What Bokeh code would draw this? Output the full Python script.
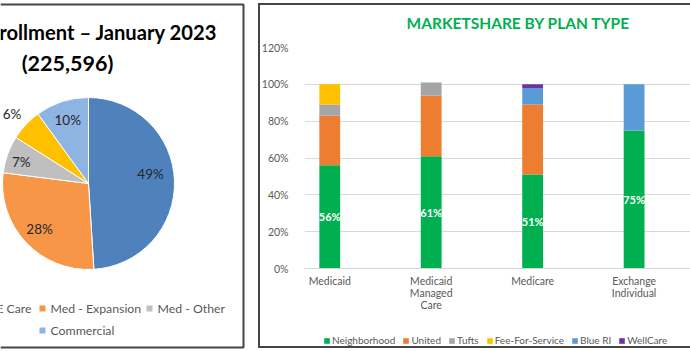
import numpy as np
from bokeh.plotting import figure
from bokeh.layouts import row
from bokeh.models import (Range1d, ColumnDataSource, FixedTicker, PrintfTickFormatter,
                          Legend, LegendItem, Title)
from bokeh.core.properties import value
from bokeh.embed import file_html
from bokeh.resources import INLINE

# ---------------- data: enrollment pie ----------------
pie_title = "Total Enrollment – January 2023"
pie_total = "(225,596)"
pie_categories = ["RItE Care", "Med - Expansion", "Med - Other", "", "Commercial"]  # 4th entry's legend is cropped out of view
pie_shares = [49, 28, 7, 6, 10]

# ---------------- data: market share bars ----------------
bar_title = "MARKETSHARE BY PLAN TYPE"
plan_types = ["Medicaid", "Medicaid\nManaged\nCare", "Medicare", "Exchange\nIndividual"]
carriers = ["Neighborhood", "United", "Tufts", "Fee-For-Service", "Blue RI", "WellCare"]
neighborhood = [56, 61, 51, 75]
united = [27, 33, 38, 0]
tufts = [6, 7, 0, 0]
fee_for_service = [11, 0, 0, 0]
blue_ri = [0, 0, 9, 25]
wellcare = [0, 0, 2, 0]
y_ticks = [0, 20, 40, 60, 80, 100, 120]

# ---------------- styles ----------------
FONT = "Lato"
TXT = "#595959"
BORDER = "#454545"
pie_colors = ["#4F81BD", "#F79646", "#BFBFBF", "#FFC000", "#8EB4E3"]
bar_colors = ["#00B050", "#ED7D31", "#A5A5A5", "#FFC000", "#5B9BD5", "#7030A0"]

H = 351
W1 = 258
W2 = 432

# ================= left panel (pie) =================
left = figure(width=W1, height=H, x_range=Range1d(0, W1), y_range=Range1d(0, H),
              x_axis_type=None, y_axis_type=None, output_backend="svg",
              toolbar_location=None, min_border=0, frame_align=False)
left.grid.visible = False
left.outline_line_color = None


def py(v):
    return H - v


cx, cy, r = 88, py(183), 86
frac = np.array(pie_shares, dtype=float) / sum(pie_shares)
cend = np.cumsum(frac)
cstart = cend - frac
pie_src = ColumnDataSource(dict(start=np.pi / 2 - 2 * np.pi * cend,
                                end=np.pi / 2 - 2 * np.pi * cstart, color=pie_colors))
left.wedge(x=cx, y=cy, radius=r, start_angle="start", end_angle="end", color="color",
           line_color="white", line_width=1, source=pie_src)

label_k = [0.73, 0.78, 0.82, 1.2, 0.78]
label_nudge = np.radians([7, 0, 2, 1, 0])
mid = np.pi / 2 - 2 * np.pi * (cstart + frac / 2) + label_nudge
lab_src = ColumnDataSource(dict(
    x=cx + np.array(label_k) * r * np.cos(mid),
    y=cy + np.array(label_k) * r * np.sin(mid),
    t=[f"{v}%" for v in pie_shares]))
left.text(x="x", y="y", text="t", source=lab_src, text_font=value(FONT),
          text_font_size="13.5px", text_color="#262626", text_align="center",
          text_baseline="middle")

left.text(x=[217], y=[py(31)], text=[pie_title], text_font=value(FONT),
          text_font_size="20.2px", text_font_style="bold", text_color="#000000",
          text_align="right", text_baseline="middle")
left.text(x=[67], y=[py(62)], text=[pie_total], text_font=value(FONT),
          text_font_size="21.5px", text_font_style="bold", text_color="#000000",
          text_align="center", text_baseline="middle")

# pie legend (the panel is cropped, so entries sit where the picture shows them)
leg_pos = {1: (42, 308), 2: (149, 308), 4: (42, 330)}
idx = list(leg_pos.keys())
left.scatter(x=[leg_pos[i][0] for i in idx], y=[py(leg_pos[i][1]) for i in idx],
             marker="square", size=6, line_width=0, color=[pie_colors[i] for i in idx])
left.text(x=[leg_pos[i][0] + 8 for i in idx], y=[py(leg_pos[i][1]) for i in idx],
          text=[pie_categories[i] for i in idx], text_font=value(FONT),
          text_font_size="12.3px", text_color=TXT, text_align="left",
          text_baseline="middle")
left.text(x=[31], y=[py(308)], text=[pie_categories[0]], text_font=value(FONT),
          text_font_size="12.3px", text_color=TXT, text_align="right",
          text_baseline="middle")

left.line(x=[0, 243, 243, 0], y=[py(4), py(4), py(347), py(347)], line_color=BORDER,
          line_width=2)

# ================= right panel (stacked bars) =================
panel_edges = ("linear-gradient(#454545,#454545) 0px 3px / 100% 2px no-repeat, "
               "linear-gradient(#454545,#454545) 0px 346px / 100% 2px no-repeat, "
               "linear-gradient(#454545,#454545) 0px 3px / 2px 345px no-repeat")
# frame runs from the 120% line down to the bottom of the panel; 0% sits 83 px above it
PX_PER_PCT = 221 / 120
right = figure(width=W2, height=H, x_range=Range1d(-0.2488, 3.556),
               y_range=Range1d(-83 / PX_PER_PCT, 120),
               output_backend="svg", toolbar_location=None, frame_align=False,
               min_border_left=42, min_border_right=0, min_border_top=47,
               min_border_bottom=0, styles={"background": panel_edges})
right.outline_line_color = None
right.border_fill_alpha = 0
right.background_fill_alpha = 0

src = ColumnDataSource(dict(x=list(range(len(plan_types))), Neighborhood=neighborhood,
                            United=united, Tufts=tufts, **{"Fee-For-Service": fee_for_service},
                            **{"Blue RI": blue_ri}, WellCare=wellcare))
rends = right.vbar_stack(carriers, x="x", width=0.205, color=bar_colors, line_color=None,
                         source=src)

right.text(x=list(range(len(plan_types))), y=[v / 2 for v in neighborhood],
           text=[f"{v}%" for v in neighborhood], text_font=value(FONT),
           text_font_size="11px", text_font_style="bold", text_color="white",
           text_align="center", text_baseline="middle")

xa = right.xaxis[0]
xa.fixed_location = 0
xa.ticker = FixedTicker(ticks=list(range(len(plan_types))))
xa.major_label_overrides = {i: lbl for i, lbl in enumerate(plan_types)}
xa.axis_line_color = "#D9D9D9"
xa.major_tick_line_color = None
xa.minor_tick_line_color = None
xa.major_label_standoff = 0
xa.major_label_text_font = FONT
xa.major_label_text_font_size = "10.5px"
xa.major_label_text_color = TXT
xa.major_label_text_line_height = 1.0

ya = right.yaxis[0]
ya.ticker = FixedTicker(ticks=y_ticks)
ya.formatter = PrintfTickFormatter(format="%d%%")
ya.axis_line_color = None
ya.major_tick_line_color = None
ya.minor_tick_line_color = None
ya.major_label_standoff = 10
ya.major_label_text_font = FONT
ya.major_label_text_font_size = "10.5px"
ya.major_label_text_color = TXT

right.xgrid.visible = False
right.ygrid.grid_line_color = "#D9D9D9"
right.ygrid.ticker = FixedTicker(ticks=y_ticks)

right.add_layout(Title(text=bar_title, align="left", offset=102, standoff=27,
                       vertical_align="top", text_font=FONT, text_font_size="15.5px",
                       text_font_style="bold", text_color="#00B050"), "above")

legend = Legend(items=[LegendItem(label=c, renderers=[rr]) for c, rr in zip(carriers, rends)],
                orientation="horizontal", location=(19, 5), glyph_width=7,
                glyph_height=7, label_standoff=2, spacing=7, label_text_font=FONT,
                label_text_font_size="10px", label_text_color=TXT,
                border_line_color=None, background_fill_alpha=0, padding=0, margin=0,
                label_height=12)
right.add_layout(legend)

layout = row(left, right)
open("out.html", "w").write(file_html(layout, INLINE))
